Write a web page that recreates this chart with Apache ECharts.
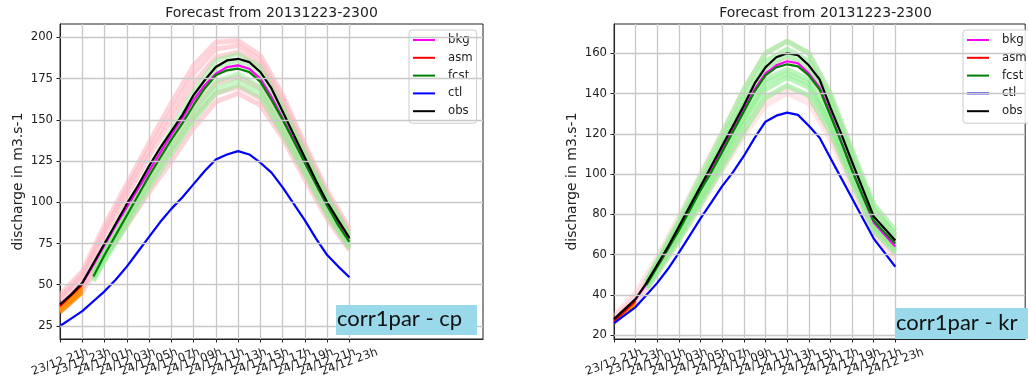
<!DOCTYPE html>
<html>
<head>
<meta charset="utf-8">
<script src="https://cdn.jsdelivr.net/npm/echarts@6/dist/echarts.min.js"></script>
<style>html,body{margin:0;padding:0;background:#fff;}#c{width:1028px;height:383px;}</style>
</head>
<body>
<div id="c"></div>
<script>
// ---------- data ----------
const titleText = 'Forecast from 20131223-2300';
const yName = 'discharge in m3.s-1';
const tickLabels = ['23/12 21h','23/12 23h','24/12 01h','24/12 03h','24/12 05h','24/12 07h','24/12 09h',
  '24/12 11h','24/12 13h','24/12 15h','24/12 17h','24/12 19h','24/12 21h','24/12 23h'];
const nHours = 39; // hourly slots on x axis (0 = 23/12 21h)
const yTicksL = [25,50,75,100,125,150,175,200];
const yTicksR = [20,40,60,80,100,120,140,160];
const names = ['bkg','asm','fcst','ctl','obs'];
const boxLabels = ['corr1par - cp','corr1par - kr'];

// main series (hourly). start hour index in *Start
const obsStart = 0, bkgStart = 0, asmStart = 0, fcstStart = 3, ctlStart = 0;
const obsL  = [38,44,51,63,75,87,99,110,122,133,143,153,165,174,182,186,187,185,179,169,155,141,127,113,100,89,78.5];
const bkgL  = [38,44,51,62,74,86,97,108,119,130,141,151,162,171,178,182,183,181,175,164,151,138,124,111,98,87,77.5];
const asmL  = [37,43.5,50];
const fcstL = [55,68,80,92,104,116,127,138,148,159,169,177,180,181,179,173,162,150,137,124,111,98,86,76];
const ctlL  = [25,29.5,34,40,46,53,61,70,79,88,96,103,111,119,126,129,131,129,124,118,109,99,89,78,68,61,54.5];

const obsR  = [28,33,38,46,55,64,74,84,94,104,114,124,134,145,153,158,160,159,154,147,133,120,106,92.5,79,73,67];
const bkgR  = [28,33,38,45.5,54,63,73,83,93,102,112,122,132,142,150,154,156,155,150,143,130,116,102,89,76,70,64];
const asmR  = [27,32,37];
const fcstR = [45,54,63,72,82,92,101,111,121,131,141,149,153,154.5,153.5,149,142,129,116,102,89,77,71,65.5];
const ctlR  = [26,30,34,40,46,53,61,69.5,78,86,94,101,109,118,126,129,130.5,129.4,124,118,108,98,88,78,68,61,54];

// ensemble members
const bkgEnsHours = [0,2,4,6,8,10,12,14,16,18,20,22,24,26];
const fcstEnsHours = [3,4,6,8,10,12,14,16,18,20,22,24,26];
const asmEnsHours = [0,1,2];

const bkgEnsL = [
  [44,58,86,111,136,160,183,197,198,189,165,135,107,84],
  [42,56,83,108,132,155,178,193,195,186,162,133,105,82],
  [40,54,80,104,128,150,172,188,191,183,159,130,103,80],
  [37,50,73,95,116,137,157,172,176,169,147,121,96,76],
  [35,48,70,90,111,131,151,166,170,163,142,117,93,73],
  [34,46,67,86,106,125,145,161,166,159,139,114,90,71]
];
const fcstEnsL = [
  [58,71,96,121,144,167,186,190,182,158,131,104,81],
  [57,70,94,119,141,163,182,186,178,155,128,102,79],
  [56,69,93,117,139,160,178,183,175,152,126,100,77],
  [54,66,90,113,135,155,173,178,170,147,121,96,75],
  [53,65,88,111,132,152,169,174,167,144,119,94,73],
  [52,64,86,108,129,149,166,171,164,141,117,92,72]
];
const asmEnsL = [[33,39,45],[34,40,46.5],[35,41.5,48],[36,42.5,49]];

const bkgEnsR = [
  [30,41,59,79,100,121,142,160,166,160,139,111,83,69],
  [29,39,56,75,95,115,135,152,157,151,131,104,78,65],
  [27,37,52,69,87,105,122,137,143,138,120,96,72,60],
  [27,36,50,67,84,102,119,134,140,135,117,93,70,58]
];
const fcstEnsR = [
  [47,57,77,99,120,142,160,166,160,140,112,85,72],
  [46,56,75,96,117,138,156,162,156,137,109,83,70],
  [46,55,74,94,114,135,153,159,153,133,106,80,68],
  [45,53,71,90,109,129,147,152,147,127,101,76,64],
  [44,52,69,87,106,125,142,148,143,124,98,74,62],
  [43,51,67,85,103,121,138,144,139,121,96,72,61],
  [44,53,70,89,108,127,145,150,145,125,99,75,63]
];
const asmEnsR = [[26,31,35.5],[26.5,31.5,36],[27.5,32.5,37.5]];

// ---------- chart ----------
const FONT = 'DejaVu Sans';
const TXT = '#222';
const GRIDC = '#c8c8c8';
const cats = [];
for (let i = 0; i < nHours; i++) cats.push(String(i));
const isTick = (i) => i % 2 === 0 && i / 2 < tickLabels.length;

function seq(start, arr) { return arr.map((v, i) => [start + i, v]); }
function at(hours, arr) { return arr.map((v, i) => [hours[i], v]); }
function mk(name, g, data, color, width, opacity, z) {
  return {
    type: 'line', name: name, xAxisIndex: g, yAxisIndex: g, data: data,
    symbol: 'none', showSymbol: false, silent: true, animation: false, z: z,
    lineStyle: { color: color, width: width, opacity: opacity },
    itemStyle: { color: color }
  };
}
function gridLines(g, ticks) {
  return {
    type: 'line', name: 'grid', xAxisIndex: g, yAxisIndex: g, data: [[0, ticks[0]]],
    symbol: 'none', silent: true, animation: false, z: 1,
    lineStyle: { opacity: 0 },
    markLine: {
      silent: true, symbol: 'none', animation: false, label: { show: false },
      lineStyle: { color: GRIDC, width: 1.3, type: 'solid' },
      data: ticks.map(t => ({ yAxis: t }))
    }
  };
}

const colors = { bkg: '#ff00ff', asm: '#ff0000', fcst: '#008000', ctl: '#0000ff', obs: '#000000' };

function panelSeries(g, d) {
  const s = [gridLines(g, d.ticks)];
  d.bkgEns.forEach(a => s.push(mk('bkgEns', g, at(bkgEnsHours, a), '#ffb6c1', 5, d.pinkOp, 2)));
  d.fcstEns.forEach(a => s.push(mk('fcstEns', g, at(fcstEnsHours, a), '#90ee90', d.greenW, d.greenOp, 2)));
  d.asmEns.forEach(a => s.push(mk('asmEns', g, at(asmEnsHours, a), '#ff8c00', 3.5, 0.8, 2)));
  s.push(mk('bkg', g, seq(bkgStart, d.bkg), colors.bkg, 2.2, 1, 3));
  s.push(mk('asm', g, seq(asmStart, d.asm), colors.asm, 2.2, 1, 3));
  s.push(mk('fcst', g, seq(fcstStart, d.fcst), colors.fcst, 2.2, 1, 3));
  s.push(mk('ctl', g, seq(ctlStart, d.ctl), colors.ctl, 2.2, 1, 3));
  s.push(mk('obs', g, seq(obsStart, d.obs), colors.obs, 2.2, 1, 3));
  return s;
}

const grids = [
  { left: 60, top: 24, width: 423, height: 315 },
  { left: 614, top: 24, width: 423, height: 315 }
];

function xAxis(g) {
  return {
    type: 'category', gridIndex: g, data: cats, boundaryGap: false,
    axisLine: { show: true, lineStyle: { color: TXT, width: 1 } },
    axisTick: { show: true, inside: false, length: 3.5, interval: (i) => isTick(i), lineStyle: { color: TXT, width: 1 } },
    axisLabel: {
      show: true, interval: 0, rotate: 20, align: 'center', verticalAlign: 'middle', margin: 23,
      fontFamily: FONT, fontSize: 11.7, color: TXT,
      formatter: (v, i) => (isTick(i) ? tickLabels[i / 2] : '')
    },
    splitLine: { show: true, interval: (i) => isTick(i), lineStyle: { color: GRIDC, width: 1.3 } }
  };
}
function yAxis(g, min, max, ticks) {
  return {
    type: 'value', gridIndex: g, min: min, max: max,
    name: yName, nameLocation: 'middle', nameGap: 35, nameRotate: 90,
    nameTextStyle: { fontFamily: FONT, fontSize: 14, color: TXT },
    axisLine: { show: true, lineStyle: { color: TXT, width: 1 } },
    axisTick: { show: true, inside: false, length: 3.5, customValues: ticks, lineStyle: { color: TXT, width: 1 } },
    axisLabel: { show: true, customValues: ticks, margin: 7, fontFamily: FONT, fontSize: 11.7, color: TXT },
    splitLine: { show: false }
  };
}

function legend(left) {
  return {
    orient: 'vertical', left: left, top: 30, data: names, selectedMode: false,
    icon: 'rect', itemWidth: 22, itemHeight: 2, itemGap: 3.8,
    padding: [3, 4, 5, 4],
    borderColor: '#cccccc', borderWidth: 1, borderRadius: 3, backgroundColor: 'rgba(255,255,255,0.85)',
    textStyle: { fontFamily: FONT, fontSize: 11.7, color: TXT, padding: [0, 0, 0, 8], lineHeight: 14 }
  };
}

const option = {
  animation: false,
  backgroundColor: '#ffffff',
  title: [
    { text: titleText, left: 271.5, top: 6, textAlign: 'center', padding: 0,
      textStyle: { fontFamily: FONT, fontSize: 14, fontWeight: 'normal', color: TXT } },
    { text: titleText, left: 825.5, top: 6, textAlign: 'center', padding: 0,
      textStyle: { fontFamily: FONT, fontSize: 14, fontWeight: 'normal', color: TXT } }
  ],
  grid: grids.map(g => Object.assign({ show: true, borderColor: TXT, borderWidth: 1, backgroundColor: 'transparent' }, g)),
  legend: [legend(409), legend(963)],
  xAxis: [xAxis(0), xAxis(1)],
  yAxis: [yAxis(0, 17.1, 208.1, yTicksL), yAxis(1, 18.15, 174.5, yTicksR)],
  series: [].concat(
    panelSeries(0, { ticks: yTicksL, pinkOp: 0.6, greenOp: 0.5, greenW: 4.5,
      bkgEns: bkgEnsL, fcstEns: fcstEnsL, asmEns: asmEnsL, bkg: bkgL, asm: asmL, fcst: fcstL, ctl: ctlL, obs: obsL }),
    panelSeries(1, { ticks: yTicksR, pinkOp: 0.35, greenOp: 0.6, greenW: 5,
      bkgEns: bkgEnsR, fcstEns: fcstEnsR, asmEns: asmEnsR, bkg: bkgR, asm: asmR, fcst: fcstR, ctl: ctlR, obs: obsR })
  ),
  graphic: [
    { type: 'rect', left: 336, top: 305, shape: { width: 141, height: 30 }, style: { fill: '#99d9ea' }, z: 100 },
    { type: 'text', left: 337, top: 308, style: { text: boxLabels[0], font: '22px Lato', fill: '#111' }, z: 101 },
    { type: 'rect', left: 895, top: 308, shape: { width: 140, height: 31 }, style: { fill: '#99d9ea' }, z: 100 },
    { type: 'text', left: 896, top: 312, style: { text: boxLabels[1], font: '22px Lato', fill: '#111' }, z: 101 }
  ]
};

const chart = echarts.init(document.getElementById('c'), null, { renderer: 'canvas' });
chart.setOption(option);
</script>
</body>
</html>
